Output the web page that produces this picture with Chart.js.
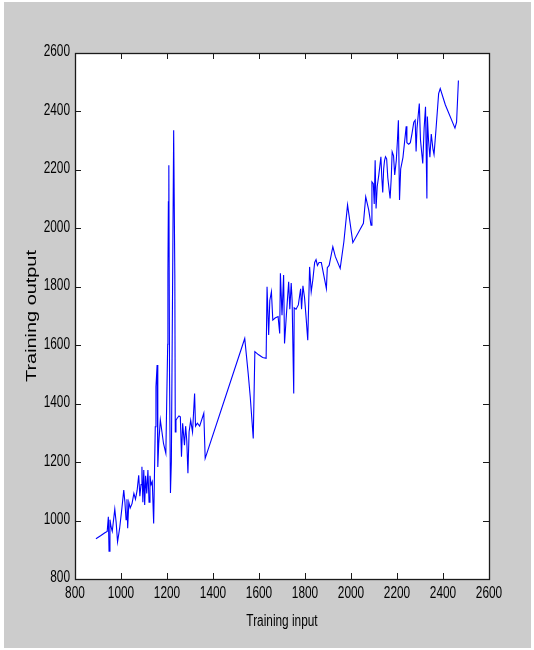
<!DOCTYPE html>
<html>
<head>
<meta charset="utf-8">
<script src="https://cdn.jsdelivr.net/npm/chart.js@4.4.1/dist/chart.umd.min.js"></script>
<style>
  html, body { margin: 0; padding: 0; background: #ffffff; }
  canvas { display: block; }
</style>
</head>
<body>
<canvas id="c" width="534" height="650"></canvas>
<script>
// Training input (sorted) and the matching network output
const inputs = [
  891, 911, 930, 940, 945, 948, 952, 957, 962, 973, 979, 985, 994, 1004, 1012, 1017, 1022, 1026, 1029, 1034,
  1040, 1048, 1056, 1063, 1070, 1077, 1082, 1087, 1091, 1095, 1099, 1103, 1107, 1112, 1117, 1122, 1126, 1131, 1136, 1142,
  1146, 1149, 1152, 1157, 1160, 1164, 1171, 1185, 1195, 1203, 1204, 1206, 1208, 1211, 1215, 1219, 1229, 1234, 1236, 1239,
  1244, 1252, 1258, 1263, 1268, 1276, 1281, 1286, 1291, 1296, 1303, 1311, 1320, 1324, 1332, 1342, 1360, 1366,
  1538, 1553, 1562, 1575, 1582, 1597, 1616, 1631,
  1635, 1642, 1647, 1654, 1660, 1670, 1683, 1690, 1693, 1700, 1707, 1711, 1719, 1729, 1734, 1740, 1744, 1751, 1753, 1761,
  1771, 1781, 1785, 1791, 1798, 1804, 1812, 1820, 1827, 1834, 1842, 1848, 1854, 1861, 1871, 1893, 1897, 1905, 1921, 1932,
  1953, 1969, 1985, 2008, 2054, 2064, 2077, 2087, 2091, 2097, 2101, 2105, 2109, 2114, 2121, 2130, 2134, 2138, 2142, 2146,
  2150, 2155, 2160, 2170, 2175, 2179, 2185, 2190, 2197, 2202, 2206, 2211, 2216, 2226, 2240, 2243, 2251, 2258, 2265, 2273,
  2279, 2283, 2287, 2297, 2302, 2312, 2318, 2324, 2330, 2332, 2337, 2343, 2349, 2356, 2361, 2369, 2381, 2388, 2410, 2452,
  2459, 2467
];
const outputs = [
  938, 948, 958, 963, 1013, 895, 1003, 978, 963, 1039, 993, 927, 973, 1043, 1104, 1063, 1003, 1073, 974, 1063,
  1043, 1058, 1093, 1073, 1103, 1155, 1083, 1123, 1184, 1063, 1173, 1053, 1153, 1093, 1173, 1063, 1153, 1123, 1133, 990,
  1183, 1321, 1458, 1532, 1183, 1263, 1344, 1263, 1230, 1603, 1847, 2091, 2216, 1503, 1094, 1203, 2336, 1840, 1303, 1343,
  1350, 1358, 1355, 1218, 1333, 1258, 1323, 1273, 1162, 1303, 1343, 1303, 1435, 1323, 1333, 1323, 1367, 1213,
  1623, 1503, 1423, 1281, 1578, 1568, 1558, 1555,
  1800, 1635, 1753, 1783, 1686, 1693, 1698, 1640, 1846, 1703, 1840, 1606, 1703, 1817, 1723, 1813, 1753, 1435, 1728, 1723,
  1738, 1793, 1723, 1803, 1763, 1703, 1617, 1868, 1783, 1823, 1883, 1893, 1873, 1883, 1883, 1794, 1865, 1873, 1937, 1903,
  1863, 1954, 2080, 1951, 2017, 2108, 2063, 2011, 2159, 2153, 2083, 2233, 2068, 2143, 2183, 2245, 2173, 2123, 2203, 2233,
  2245, 2238, 2173, 2102, 2173, 2262, 2248, 2183, 2233, 2302, 2370, 2097, 2203, 2243, 2349, 2293, 2288, 2293, 2323, 2363,
  2370, 2263, 2343, 2427, 2303, 2222, 2343, 2416, 2102, 2383, 2303, 2243, 2323, 2273, 2253, 2333, 2461, 2478, 2423, 2343,
  2363, 2506
];
// Axis ticks
const xTicks = [800, 1000, 1200, 1400, 1600, 1800, 2000, 2200, 2400, 2600];
const yTicks = [800, 1000, 1200, 1400, 1600, 1800, 2000, 2200, 2400, 2600];
const xTitle = 'Training input';
const yTitle = 'Training output';

const FONT = "'Liberation Sans', Arial, sans-serif";
const TICK_LEN = 6;
const NARROW = 0.74;   // horizontal squeeze applied to all figure text

// Draw a string squeezed horizontally around its anchor point
function squeezedText(ctx, str, x, y, align) {
  ctx.save();
  ctx.translate(x, y);
  ctx.scale(NARROW, 1);
  ctx.textAlign = align;
  ctx.fillText(str, 0, 0);
  ctx.restore();
}

// Grey figure panel, white axes box, inward ticks, labels and titles
const figurePanel = {
  id: 'figurePanel',
  beforeDraw(chart) {
    const { ctx, chartArea: a } = chart;
    ctx.save();
    ctx.fillStyle = '#ffffff';
    ctx.fillRect(0, 0, chart.width, chart.height);
    ctx.fillStyle = '#cccccc';
    ctx.fillRect(4, 2, 527, 646);
    ctx.fillStyle = '#ffffff';
    ctx.fillRect(a.left, a.top, a.right - a.left, a.bottom - a.top);
    ctx.restore();
  },
  afterDatasetsDraw(chart) {
    const { ctx, chartArea: a, scales } = chart;
    ctx.save();
    ctx.strokeStyle = '#1a1a1a';
    ctx.lineWidth = 1;
    ctx.beginPath();
    scales.x.ticks.forEach(t => {
      const x = Math.round(scales.x.getPixelForValue(t.value)) + 0.5;
      ctx.moveTo(x, a.bottom); ctx.lineTo(x, a.bottom - TICK_LEN);
      ctx.moveTo(x, a.top); ctx.lineTo(x, a.top + TICK_LEN);
    });
    scales.y.ticks.forEach(t => {
      const y = Math.round(scales.y.getPixelForValue(t.value)) + 0.5;
      ctx.moveTo(a.left, y); ctx.lineTo(a.left + TICK_LEN, y);
      ctx.moveTo(a.right, y); ctx.lineTo(a.right - TICK_LEN, y);
    });
    ctx.stroke();
    ctx.lineWidth = 1.3;
    ctx.strokeRect(Math.round(a.left) + 0.5, Math.round(a.top) + 0.5,
                   Math.round(a.right - a.left), Math.round(a.bottom - a.top));
    ctx.restore();
  },
  afterDraw(chart) {
    const { ctx, chartArea: a, scales } = chart;
    ctx.save();
    ctx.fillStyle = '#000000';
    ctx.textBaseline = 'middle';
    ctx.font = '16px ' + FONT;
    scales.x.ticks.forEach(t => {
      squeezedText(ctx, String(t.value), scales.x.getPixelForValue(t.value), a.bottom + 15, 'center');
    });
    scales.y.ticks.forEach(t => {
      squeezedText(ctx, String(t.value), a.left - 5, scales.y.getPixelForValue(t.value) - 1, 'right');
    });
    squeezedText(ctx, xTitle, (a.left + a.right) / 2, 622, 'center');
    // vertical title, stretched along its reading direction
    ctx.translate(32, 316);
    ctx.rotate(-Math.PI / 2);
    ctx.scale(1.42, 1);
    ctx.textAlign = 'center';
    ctx.font = '14px ' + FONT;
    ctx.fillText(yTitle, 0, 0);
    ctx.restore();
  }
};

new Chart(document.getElementById('c'), {
  type: 'line',
  data: {
    datasets: [{
      data: inputs.map((x, i) => ({ x, y: outputs[i] })),
      borderColor: '#0000ff',
      borderWidth: 1.1,
      pointRadius: 0,
      tension: 0,
      fill: false
    }]
  },
  options: {
    responsive: false,
    animation: false,
    events: [],
    layout: { padding: { left: 0, top: 53, right: 45, bottom: 0 } },
    plugins: { legend: { display: false }, tooltip: { enabled: false } },
    scales: {
      x: {
        type: 'linear',
        min: 800, max: 2600,
        afterFit: s => { s.height = 71; },
        afterBuildTicks: s => { s.ticks = xTicks.map(v => ({ value: v })); },
        grid: { display: false, drawTicks: false },
        border: { display: false },
        ticks: { display: false }
      },
      y: {
        type: 'linear',
        min: 800, max: 2600,
        afterFit: s => { s.width = 75; },
        afterBuildTicks: s => { s.ticks = yTicks.map(v => ({ value: v })); },
        grid: { display: false, drawTicks: false },
        border: { display: false },
        ticks: { display: false }
      }
    }
  },
  plugins: [figurePanel]
});
</script>
</body>
</html>
